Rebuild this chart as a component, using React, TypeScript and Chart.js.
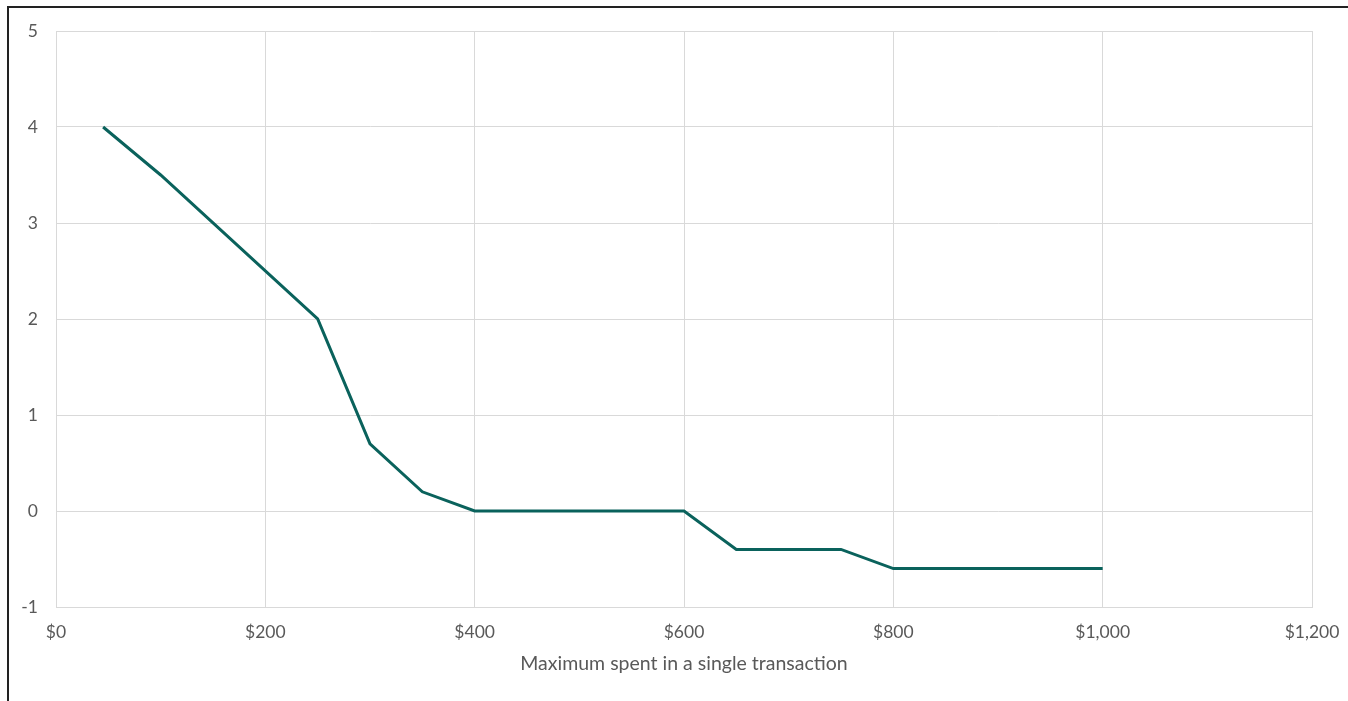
import React, { useEffect, useRef } from "react";
import { Chart, registerables } from "chart.js";

Chart.register(...registerables);

// Maximum single-transaction spend (USD) and the corresponding score
const spendAmounts = [45, 100, 250, 300, 350, 400, 600, 650, 750, 800, 1000];
const scoreValues = [4, 3.5, 2, 0.7, 0.2, 0, 0, -0.4, -0.4, -0.6, -0.6];

const xTickStep = 200;
const yTickStep = 1;
const xRange = [0, 1200];
const yRange = [-1, 5];
const xAxisTitle = "Maximum spent in a single transaction";

const WIDTH = 1348;
const HEIGHT = 701;
const TEXT = "#595959";
const GRID = "#d9d9d9";
const LINE = "#0a625c";
const FONT = "Lato, 'Open Sans', sans-serif";

export default function App() {
  const canvasRef = useRef<HTMLCanvasElement | null>(null);

  useEffect(() => {
    document.body.style.margin = "0";
    const canvas = canvasRef.current;
    if (!canvas) return;
    const points = spendAmounts.map((x, i) => ({ x, y: scoreValues[i] }));

    const chart = new Chart(canvas, {
      type: "scatter",
      data: {
        datasets: [
          {
            data: points,
            showLine: true,
            borderColor: LINE,
            backgroundColor: LINE,
            borderWidth: 3,
            pointRadius: 0,
            pointHoverRadius: 0,
            tension: 0,
          },
        ],
      },
      options: {
        responsive: false,
        animation: false,
        events: [],
        layout: { padding: { left: 0, right: 36, top: 31, bottom: 0 } },
        plugins: {
          legend: { display: false },
          tooltip: { enabled: false },
        },
        scales: {
          x: {
            type: "linear",
            min: xRange[0],
            max: xRange[1],
            border: { color: GRID, width: 1 },
            grid: { color: GRID, lineWidth: 1, drawTicks: false },
            ticks: {
              stepSize: xTickStep,
              color: TEXT,
              font: { family: FONT, size: 17.5 },
              padding: 15,
              maxRotation: 0,
              callback: (v: any) => "$" + Number(v).toLocaleString("en-US"),
            },
            title: {
              display: true,
              text: xAxisTitle,
              color: TEXT,
              font: { family: FONT, size: 19.5 },
              padding: { top: 0, bottom: 26 },
            },
            afterFit: (scale: any) => {
              scale.height = 94;
              // keep the edge labels from shrinking the plot area
              scale.paddingLeft = 20;
              scale.paddingRight = 20;
            },
          },
          y: {
            type: "linear",
            min: yRange[0],
            max: yRange[1],
            border: { color: GRID, width: 1 },
            grid: { color: GRID, lineWidth: 1, drawTicks: false },
            ticks: {
              stepSize: yTickStep,
              color: TEXT,
              font: { family: FONT, size: 17.5 },
              padding: 18,
            },
            afterFit: (scale: any) => {
              scale.width = 56;
            },
          },
        },
      },
    });
    return () => chart.destroy();
  }, []);

  return (
    <div style={{ position: "relative", width: WIDTH, height: HEIGHT, background: "#fff", overflow: "hidden" }}>
      <canvas
        ref={canvasRef}
        width={WIDTH}
        height={HEIGHT}
        style={{ position: "absolute", left: 0, top: 0, width: WIDTH, height: HEIGHT }}
      />
      <div
        style={{
          position: "absolute",
          left: 7,
          top: 6,
          right: 0,
          bottom: 0,
          borderLeft: "2px solid #222",
          borderTop: "2px solid #222",
          pointerEvents: "none",
        }}
      />
    </div>
  );
}
